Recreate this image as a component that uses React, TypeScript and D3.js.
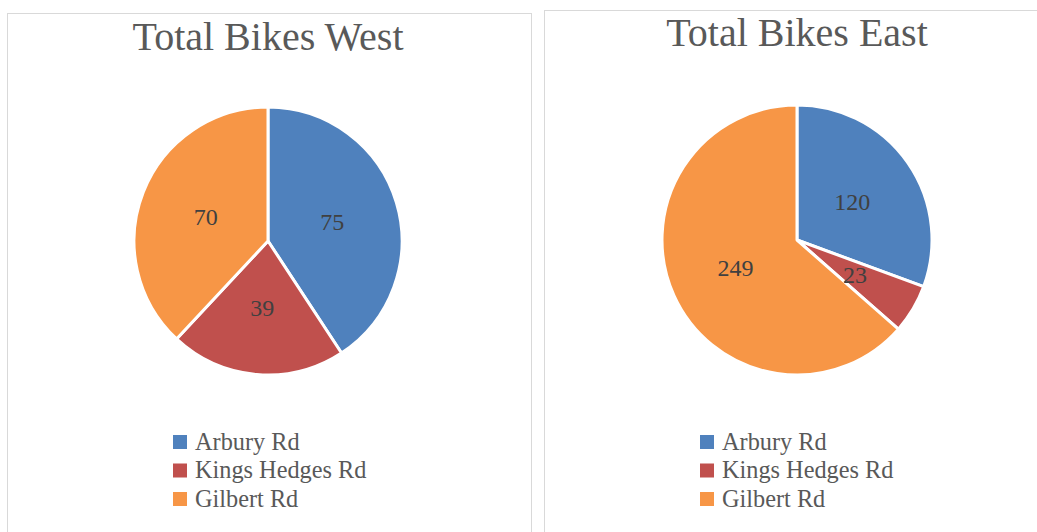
import React from "react";
import * as d3 from "d3";

const categories = ["Arbury Rd", "Kings Hedges Rd", "Gilbert Rd"];
const westValues = [75, 39, 70];
const eastValues = [120, 23, 249];
const colors = ["#4F81BD", "#C0504D", "#F79646"];
const titles = ["Total Bikes West", "Total Bikes East"];

const FONT = "'Liberation Serif', 'DejaVu Serif', serif";

type PanelProps = {
  x: number; y: number; w: number; h: number;
  cx: number; cy: number; r: number;
  title: string; titleY: number;
  values: number[];
  legendX: number; legendY: number;
};

function Panel(p: PanelProps) {
  const pie = d3.pie<number>().sort(null).value((d) => d);
  const arcs = pie(p.values);
  const arc = d3.arc<d3.PieArcDatum<number>>().innerRadius(0).outerRadius(p.r);
  const color = d3.scaleOrdinal<string, string>().domain(categories).range(colors);
  return (
    <g>
      <rect x={p.x + 0.5} y={p.y + 0.5} width={p.w} height={p.h} fill="#fff" stroke="#d9d9d9" strokeWidth={1} />
      <text x={p.cx} y={p.titleY} textAnchor="middle" fontFamily={FONT} fontSize={40} fill="#595959">
        {p.title}
      </text>
      <g transform={`translate(${p.cx},${p.cy})`}>
        {arcs.map((a, i) => (
          <path key={i} d={arc(a) || ""} fill={color(categories[i])} stroke="#fff" strokeWidth={3} strokeLinejoin="round" />
        ))}
        {arcs.map((a, i) => {
          const [lx, ly] = arc.centroid(a);
          return (
            <text key={"l" + i} x={lx} y={ly} dy="0.35em" textAnchor="middle" fontFamily={FONT} fontSize={24} fill="#404040">
              {p.values[i]}
            </text>
          );
        })}
      </g>
      <g transform={`translate(${p.legendX},${p.legendY})`}>
        {categories.map((c, i) => (
          <g key={c} transform={`translate(0,${i * 28.5})`}>
            <rect x={0} y={0} width={14} height={14} fill={color(c)} />
            <text x={22} y={14.5} fontFamily={FONT} fontSize={24.3} fill="#595959">{c}</text>
          </g>
        ))}
      </g>
    </g>
  );
}

export default function App() {
  return (
    <svg width={1037} height={532} style={{ position: "absolute", left: 0, top: 0, background: "#fff" }}>
      <Panel x={7} y={13} w={524} h={540} cx={268} cy={241} r={134} title={titles[0]} titleY={50}
        values={westValues} legendX={173} legendY={435} />
      <Panel x={544} y={10} w={520} h={540} cx={797} cy={240} r={135} title={titles[1]} titleY={46}
        values={eastValues} legendX={700} legendY={435} />
    </svg>
  );
}
